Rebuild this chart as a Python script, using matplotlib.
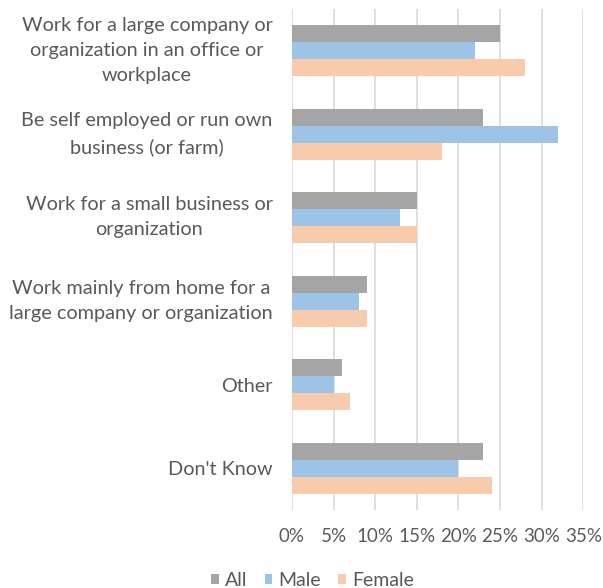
import matplotlib.pyplot as plt
import matplotlib.transforms as mtransforms
import numpy as np
from matplotlib.ticker import FuncFormatter

categories = [
    "Work for a large company or\norganization in an office or\nworkplace",
    "Be self employed or run own\nbusiness (or farm)",
    "Work for a small business or\norganization",
    "Work mainly from home for a\nlarge company or organization",
    "Other",
    "Don't Know",
]
all_vals = [25, 23, 15, 9, 6, 23]
male_vals = [22, 32, 13, 8, 5, 20]
female_vals = [28, 18, 15, 9, 7, 24]
series_names = ["All", "Male", "Female"]
colors = ["#A5A5A5", "#9DC3E6", "#F8CBAD"]
text_color = "#595959"

plt.rcParams['font.family'] = ['Lato', 'DejaVu Sans']

fig = plt.figure(figsize=(6.03, 5.88), dpi=100)
ax = fig.add_axes([0.4842, 0.1327, 0.4831, 0.852])

y = np.arange(len(categories))
h = 0.204
for i, (vals, name, c) in enumerate(zip([all_vals, male_vals, female_vals], series_names, colors)):
    ax.barh(y + (i - 1) * h, vals, height=h, color=c, label=name, zorder=3)

ax.set_xlim(0, 35)
ax.set_ylim(len(categories) - 0.5, -0.5)
ax.set_xticks(range(0, 36, 5))
ax.xaxis.set_major_formatter(FuncFormatter(lambda v, p: f"{int(v)}%"))
ax.set_yticks(y)
ax.set_yticklabels(categories, multialignment='center', linespacing=1.58)
ax.tick_params(axis='y', length=0, pad=14, labelsize=14.3, labelcolor=text_color)
ax.tick_params(axis='x', length=0, pad=13, labelsize=13.5, labelcolor=text_color)

# multi-line labels sit a little high in the original
shift = mtransforms.ScaledTranslation(0, 6 / 100, fig.dpi_scale_trans)
for lab in ax.get_yticklabels():
    if "\n" in lab.get_text():
        lab.set_transform(lab.get_transform() + shift)

ax.grid(axis='x', color="#D9D9D9", linewidth=1.2, zorder=0)
for s in ax.spines.values():
    s.set_visible(False)

fig.legend(loc='center', bbox_to_anchor=(0.518, 0.013), ncol=3, frameon=False,
           fontsize=14, labelcolor=text_color, handlelength=0.4, handleheight=0.4,
           handletextpad=0.3, columnspacing=0.9)

fig.savefig("out.png", dpi=100)
